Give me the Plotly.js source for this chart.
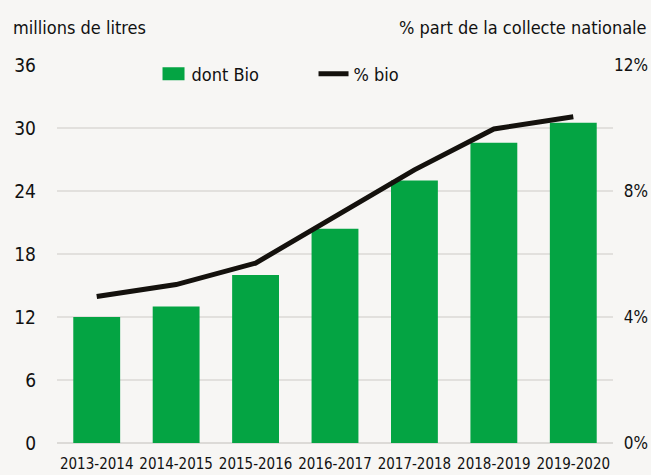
<!DOCTYPE html>
<html>
<head>
<meta charset="utf-8">
<script src="https://cdn.plot.ly/plotly-3.0.1.min.js"></script>
<style>
html,body{margin:0;padding:0;background:#f7f6f4;}
#chart{width:651px;height:475px;}
#chart text{font-stretch:condensed !important;}
</style>
</head>
<body>
<div id="chart"></div>
<script>
const campagnes = ["2013-2014","2014-2015","2015-2016","2016-2017","2017-2018","2018-2019","2019-2020"];
const dontBio = [12.0, 13.0, 16.0, 20.4, 25.0, 28.6, 30.5];
const pctBio = [4.65, 5.03, 5.71, 7.19, 8.67, 9.97, 10.36];
const leftTicks = [0, 6, 12, 18, 24, 30, 36];
const rightTicks = [0, 4, 8, 12];
const rightTickText = ["\u20070%", "\u20074%", "\u20078%", "12%"];

const FONT = '"DejaVu Sans Condensed", "Liberation Sans Narrow", "DejaVu Sans", sans-serif';

const traces = [
  {
    type: 'bar', name: 'dont Bio', x: campagnes, y: dontBio,
    marker: {color: '#04a443'}, yaxis: 'y', hoverinfo: 'skip'
  },
  {
    type: 'scatter', mode: 'lines', name: '% bio', x: campagnes, y: pctBio,
    line: {color: '#14110d', width: 5}, yaxis: 'y2', hoverinfo: 'skip'
  }
];

const layout = {
  width: 651, height: 475,
  paper_bgcolor: '#f7f6f4', plot_bgcolor: '#f7f6f4',
  margin: {l: 57, r: 38, t: 65, b: 32},
  font: {family: FONT, size: 18, color: '#111'},
  bargap: 0.41,
  showlegend: true,
  legend: {
    orientation: 'h', x: 0.17, y: 1.025, xanchor: 'left', yanchor: 'top',
    bgcolor: 'rgba(0,0,0,0)', font: {family: FONT, size: 18, color: '#111'},
    itemwidth: 30, tracegroupgap: 0, entrywidth: 117, entrywidthmode: 'pixels'
  },
  xaxis: {
    type: 'category', showgrid: false, showline: false, zeroline: false, tickangle: 0,
    ticks: '', ticklabelstandoff: 10, tickfont: {family: FONT, size: 15, color: '#111'}, fixedrange: true
  },
  yaxis: {
    range: [0, 36], tickvals: leftTicks, showgrid: true, gridcolor: '#e2e0dd', gridwidth: 1.5,
    zeroline: true, zerolinecolor: '#dcdad7', zerolinewidth: 2,
    ticks: '', ticklabelstandoff: 20, tickfont: {family: FONT, size: 19, color: '#111'}, fixedrange: true
  },
  yaxis2: {
    overlaying: 'y', side: 'right', range: [0, 12], tickvals: rightTicks, ticktext: rightTickText,
    showgrid: false, zeroline: false, ticks: '', ticklabelstandoff: 0,
    tickfont: {family: FONT, size: 17, color: '#111'}, fixedrange: true
  },
  annotations: [
    {text: 'millions de litres', xref: 'paper', yref: 'paper', x: -0.082, y: 1.1, xanchor: 'left', yanchor: 'middle',
     showarrow: false, font: {family: FONT, size: 18, color: '#111'}},
    {text: '% part de la collecte nationale', xref: 'paper', yref: 'paper', x: 1.064, y: 1.1, xanchor: 'right', yanchor: 'middle',
     showarrow: false, font: {family: FONT, size: 18, color: '#111'}}
  ]
};

Plotly.newPlot('chart', traces, layout, {displayModeBar: false, staticPlot: true}).then(function (gd) {
  // widen the legend's bar swatch to the reference's rectangular shape
  gd.querySelectorAll('.legend .legendpoints path.legendundefined, .legend .legendbar path').forEach(function (p) {
    p.setAttribute('d', 'M-9,-6.5H13V6.5H-9Z');
  });
});
</script>
</body>
</html>
